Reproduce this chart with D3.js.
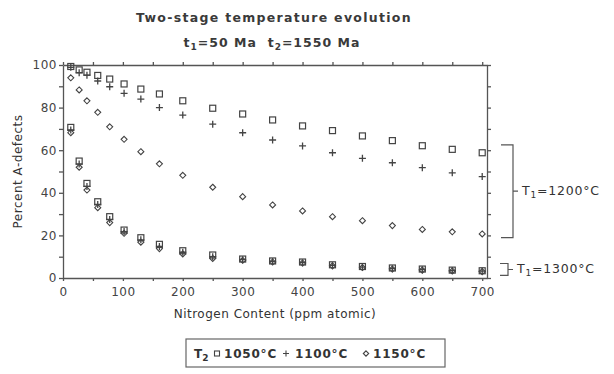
<!DOCTYPE html>
<html>
<head>
<meta charset="utf-8">
<script src="https://cdn.jsdelivr.net/npm/d3@7"></script>
<style>
  body { margin: 0; background: #fff; }
  text { font-family: "DejaVu Sans", sans-serif; fill: #333; white-space: pre; }
  .axis path, .axis line { stroke: #555; stroke-width: 1.3; }
  .axis text { font-size: 12px; fill: #444; letter-spacing: 0.5px; }
</style>
</head>
<body>
<svg></svg>
<script>
// nitrogen content (ppm atomic)
const nitrogen = [13, 27, 40, 58, 78, 102, 130, 161, 200, 250, 300, 350, 400, 450, 500, 550, 600, 650, 700];

// T1 = 1200 C
const sq1200   = [99.3, 97.7, 96.6, 95.1, 93.4, 91.1, 88.7, 86.4, 83.2, 79.7, 77.0, 74.2, 71.4, 69.2, 66.7, 64.5, 62.1, 60.4, 58.8];
const plus1200 = [98.9, 96.4, 95.2, 92.5, 89.8, 86.7, 84.0, 80.0, 76.5, 72.2, 68.2, 64.8, 62.0, 58.8, 56.2, 54.1, 51.8, 49.4, 47.6];
const dia1200  = [94.0, 88.3, 83.2, 77.8, 71.0, 65.1, 59.3, 53.6, 48.2, 42.6, 38.2, 34.3, 31.5, 28.8, 26.9, 24.6, 22.8, 21.7, 20.7];

// T1 = 1300 C
const sq1300   = [70.7, 54.9, 44.4, 35.8, 28.8, 22.5, 18.9, 15.8, 12.8, 10.8, 8.9, 8.0, 7.5, 6.2, 5.4, 4.7, 4.2, 3.7, 3.4];
const plus1300 = [69.5, 53.5, 43.0, 34.5, 27.5, 21.8, 17.9, 14.8, 12.1, 10.0, 8.6, 7.7, 7.2, 5.9, 5.1, 4.4, 3.9, 3.5, 3.2];
const dia1300  = [68.2, 52.0, 41.3, 33.0, 26.0, 21.0, 16.8, 13.8, 11.3, 9.2, 8.3, 7.5, 7.0, 5.7, 4.9, 4.2, 3.7, 3.3, 3.0];

const xTicks = [0, 50, 100, 150, 200, 250, 300, 350, 400, 450, 500, 550, 600, 650, 700];
const yTicks = [0, 10, 20, 30, 40, 50, 60, 70, 80, 90, 100];
const legendLabels = ["1050°C", "1100°C", "1150°C"];
// bracket ranges (percent) for the two T1 groups
const groups = [
    { label: "1200°C", lo: 19, hi: 62.5 },
    { label: "1300°C", lo: 1.2, hi: 6.8 }
];

const svgWidth = 614, svgHeight = 374;
const margin = { top: 65, right: 127, bottom: 96, left: 63 };
const width = svgWidth - margin.left - margin.right;
const height = svgHeight - margin.top - margin.bottom;

const svg = d3.select("svg")
    .attr("width", svgWidth)
    .attr("height", svgHeight);

const g = svg.append("g")
    .attr("transform", "translate(" + margin.left + "," + margin.top + ")");

const x = d3.scaleLinear().domain([0, 708]).range([0, width]);
const y = d3.scaleLinear().domain([0, 100]).range([height, 0]);

// axes
g.append("g")
    .classed("axis", true)
    .attr("transform", "translate(0," + height + ")")
    .call(d3.axisBottom(x).tickValues(xTicks).tickSize(3).tickSizeOuter(0).tickPadding(6)
        .tickFormat(function(d) { return d % 100 === 0 ? d : ""; }));

g.append("g")
    .classed("axis", true)
    .call(d3.axisTop(x).tickValues(xTicks).tickSize(3).tickSizeOuter(0).tickFormat(""));

g.append("g")
    .classed("axis", true)
    .call(d3.axisLeft(y).tickValues(yTicks).tickSize(4).tickSizeOuter(0).tickPadding(2)
        .tickFormat(function(d) { return d % 20 === 0 ? d : ""; }));

g.append("g")
    .classed("axis", true)
    .attr("transform", "translate(" + width + ",0)")
    .call(d3.axisRight(y).tickValues(yTicks).tickSize(4).tickSizeOuter(0).tickFormat(""));

// markers
const markColor = "#444";

// small rotated square, like the plotter's diamond
function diamondPath(cx, cy, r) {
    return "M" + cx + "," + (cy - r) + "L" + (cx + r) + "," + cy + "L" + cx + "," + (cy + r) + "L" + (cx - r) + "," + cy + "Z";
}

function drawSquares(vals) {
    g.append("g").selectAll("rect")
        .data(vals)
        .enter().append("rect")
        .attr("x", function(d, i) { return x(nitrogen[i]) - 3; })
        .attr("y", function(d) { return y(d) - 3; })
        .attr("width", 6)
        .attr("height", 6)
        .attr("fill", "none")
        .attr("stroke", markColor)
        .attr("stroke-width", 1.2);
}

function drawPlus(vals) {
    g.append("g").selectAll("path")
        .data(vals)
        .enter().append("path")
        .attr("d", function(d, i) {
            const cx = x(nitrogen[i]), cy = y(d);
            return "M" + (cx - 3.5) + "," + cy + "H" + (cx + 3.5) + "M" + cx + "," + (cy - 3.5) + "V" + (cy + 3.5);
        })
        .attr("stroke", markColor)
        .attr("stroke-width", 1.3);
}

function drawDiamonds(vals) {
    g.append("g").selectAll("path")
        .data(vals)
        .enter().append("path")
        .attr("d", function(d, i) { return diamondPath(x(nitrogen[i]), y(d), 3); })
        .attr("fill", "none")
        .attr("stroke", markColor)
        .attr("stroke-width", 1.1);
}

drawSquares(sq1200);
drawPlus(plus1200);
drawDiamonds(dia1200);
drawSquares(sq1300);
drawPlus(plus1300);
drawDiamonds(dia1300);

// brackets on the right
const bx = [[width + 14, width + 26], [width + 13, width + 21]];
groups.forEach(function(grp, k) {
    const x0 = bx[k][0], x1 = bx[k][1];
    const yTop = y(grp.hi), yBot = y(grp.lo), yMid = (yTop + yBot) / 2;
    g.append("path")
        .attr("d", "M" + x0 + "," + yTop + "H" + x1 + "V" + yBot + "H" + x0 + "M" + x1 + "," + yMid + "H" + (x1 + 5))
        .attr("fill", "none")
        .attr("stroke", "#555")
        .attr("stroke-width", 1.2);
    const t = g.append("text")
        .attr("x", x1 + 9)
        .attr("y", yMid + 4)
        .attr("font-size", "12.5px")
        .style("letter-spacing", "0.8px");
    t.append("tspan").text("T");
    t.append("tspan").attr("font-size", "9px").attr("dy", 3).text("1");
    t.append("tspan").attr("dy", -3).text("=" + grp.label);
});

// titles
svg.append("text")
    .attr("x", 274)
    .attr("y", 22)
    .attr("text-anchor", "middle")
    .attr("font-size", "12.5px")
    .attr("font-weight", "bold")
    .style("letter-spacing", "1.3px")
    .style("fill", "#3a3a3a")
    .text("Two-stage temperature evolution");

const sub = svg.append("text")
    .attr("x", 272)
    .attr("y", 47)
    .attr("text-anchor", "middle")
    .attr("font-size", "12.5px")
    .attr("font-weight", "bold")
    .style("letter-spacing", "1px")
    .style("fill", "#3a3a3a");
sub.append("tspan").text("t");
sub.append("tspan").attr("font-size", "9px").attr("dy", 3).text("1");
sub.append("tspan").attr("dy", -3).text("=50 Ma  t");
sub.append("tspan").attr("font-size", "9px").attr("dy", 3).text("2");
sub.append("tspan").attr("dy", -3).text("=1550 Ma");

svg.append("text")
    .attr("transform", "translate(22," + (margin.top + height / 2) + ") rotate(-90)")
    .attr("text-anchor", "middle")
    .attr("font-size", "12px")
    .style("letter-spacing", "0.5px")
    .text("Percent A-defects");

svg.append("text")
    .attr("x", margin.left + width / 2)
    .attr("y", 318)
    .attr("text-anchor", "middle")
    .attr("font-size", "12px")
    .style("letter-spacing", "0.5px")
    .text("Nitrogen Content (ppm atomic)");

// legend
const legend = svg.append("g").attr("transform", "translate(186,339)");
legend.append("rect")
    .attr("width", 259)
    .attr("height", 28)
    .attr("fill", "none")
    .attr("stroke", "#666")
    .attr("stroke-width", 1.2);

const lt = legend.append("text").attr("x", 8).attr("y", 19).attr("font-size", "12px").attr("font-weight", "bold");
lt.append("tspan").text("T");
lt.append("tspan").attr("font-size", "9px").attr("dy", 3).text("2");

const itemX = [31, 100, 180];
legendLabels.forEach(function(lab, i) {
    const ix = itemX[i];
    if (i === 0) {
        legend.append("rect").attr("x", ix - 2.5).attr("y", 12).attr("width", 5).attr("height", 5)
            .attr("fill", "none").attr("stroke", markColor).attr("stroke-width", 1.1);
    } else if (i === 1) {
        legend.append("path").attr("d", "M" + (ix - 3) + ",14.5H" + (ix + 3) + "M" + ix + ",11.5V17.5")
            .attr("stroke", markColor).attr("stroke-width", 1.1);
    } else {
        legend.append("path").attr("d", diamondPath(ix, 14.5, 2.7))
            .attr("fill", "none").attr("stroke", markColor).attr("stroke-width", 1.1);
    }
    legend.append("text")
        .attr("x", ix + (i === 1 ? 9 : 7))
        .attr("y", 19)
        .attr("font-size", "12px")
        .attr("font-weight", "bold")
        .style("letter-spacing", "0.8px")
        .text(lab);
});
</script>
</body>
</html>
